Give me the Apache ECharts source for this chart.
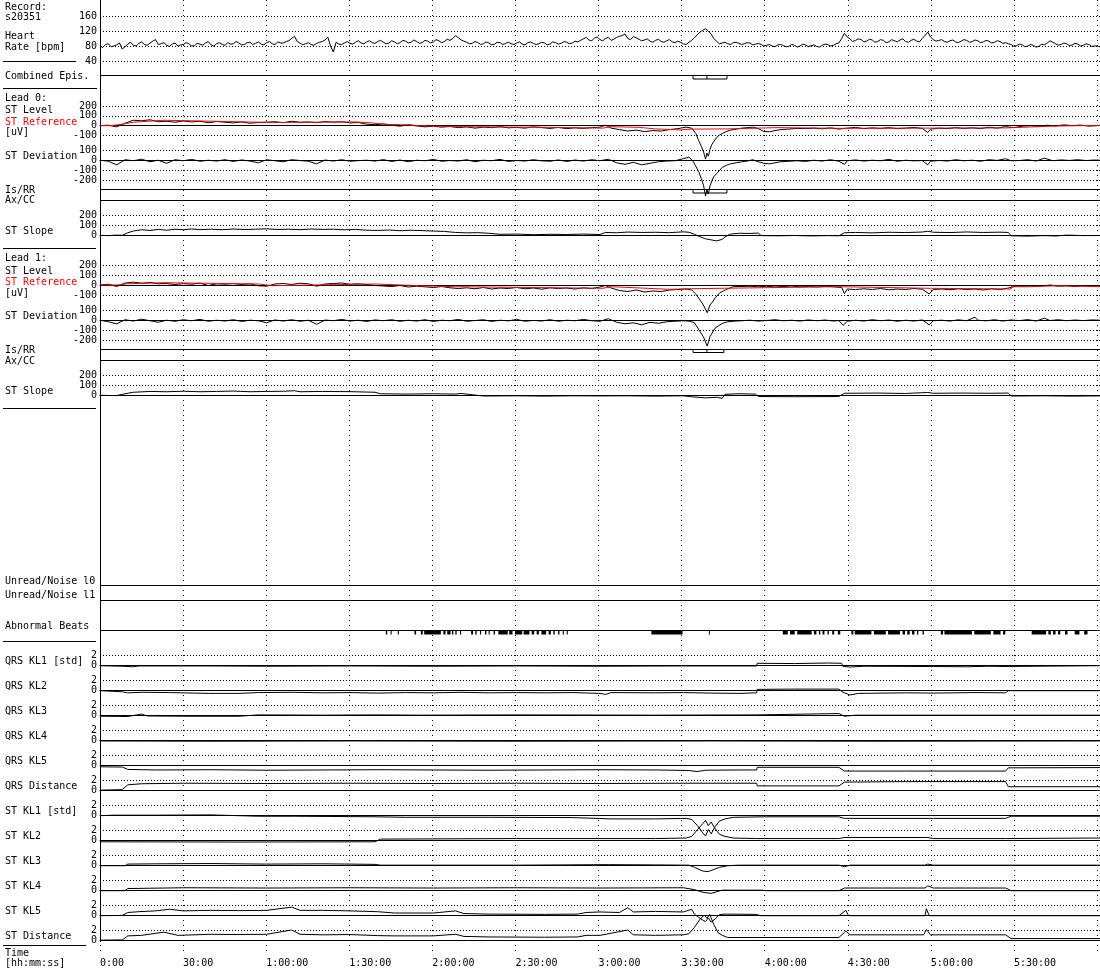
<!DOCTYPE html>
<html>
<head>
<meta charset="utf-8">
<script src="https://cdn.jsdelivr.net/npm/echarts@6/dist/echarts.min.js"></script>
<style>
html, body { margin: 0; padding: 0; background: #fff; }
#chart { width: 1100px; height: 970px; }
</style>
</head>
<body>
<div id="chart"></div>
<script>
// time axis, minutes from record start
var timeMax = 360;
var timeInterval = 30;

// heart rate: even minutes (0, 2, ... 360) and odd minutes (1, 3, ... 359)
var hrEvenValues = [80,84,78,83,72,85,82,87,84,88,97,86,82,85,80,84,86,81,85,88,
  83,86,84,89,86,88,84,90,87,85,89,86,91,88,94,106,88,86,84,87,
  92,104,64,85,88,87,90,88,91,89,92,90,88,91,89,93,90,92,89,93,
  91,94,92,95,108,96,90,87,89,86,88,85,89,87,86,88,85,89,87,86,
  88,85,89,87,90,88,91,99,96,101,97,100,95,103,108,100,105,98,96,93,
  95,92,94,91,93,86,90,102,117,126,112,92,88,86,89,87,86,88,85,84,
  82,80,83,81,79,82,80,83,81,79,82,84,82,88,114,99,95,97,93,96,
  92,95,91,94,96,92,95,93,100,117,97,95,92,94,91,93,95,92,94,91,
  93,90,92,89,84,81,83,80,82,79,83,94,86,84,86,83,85,82,84,80,78];
var hrOddValues = [76,86,80,88,78,90,80,91,82,93,
  84,89,79,88,83,89,80,87,82,92,
  80,89,82,85,92,83,89,84,91,83,
  92,84,88,92,100,92,83,89,82,90,
  96,80,90,84,92,85,94,86,94,87,
  95,86,94,86,95,88,96,87,95,88,
  97,89,98,100,102,93,86,92,84,91,
  83,90,84,90,84,91,83,91,84,90,
  83,91,85,92,86,93,95,103,94,104,
  94,103,98,106,112,97,102,94,99,90,
  98,90,97,89,90,84,95,110,122,120,
  100,86,90,84,90,84,89,83,87,80,
  84,78,84,78,84,77,85,78,83,77,
  85,80,86,100,104,92,99,91,98,90,
  97,89,97,91,99,90,98,91,108,104,
  93,97,90,96,89,97,90,96,89,95,
  88,94,87,86,79,85,78,84,77,85,
  88,90,82,88,81,87,80,86,79,80];

// ischemic episode (Combined / Is/RR brackets)
var episodeStart = 213.5, episodePeak = 218.5, episodeEnd = 225.7;
var lead1EpisodeEnd = 224.6;

// lead 0 [t, uV]
var lead0Reference = [[0,0],[4,15],[8,35],[12,55],[23,42],[46,32],[62,38],[92,30],[97,13],[103,7],[112,0],[115,-10],[128,-17],[161,-25],[181,-10],[184,-17],[194,-33],[200,-43],[209,-35],[213,-33],[225.6,-20],[244,-27],[266,-23],[326,-13],[335,-3],[345,3],[360,3]];
var lead0Level = [[0,0],[3,5],[6,-12],[9,25],[12,55],[15,50],[18,60],[21,40],[24,45],[27,35],[30,48],[33,38],[36,45],[39,30],[42,42],[45,35],[48,28],[51,38],[54,25],[57,32],[60,36],[63,40],[66,30],[69,45],[72,35],[75,38],[78,30],[81,42],[84,35],[87,40],[90,28],[93,32],[96,15],[99,10],[102,18],[105,5],[108,-5],[111,8],[114,-3],[117,-12],[120,-5],[123,-15],[126,-8],[129,-20],[132,-12],[135,-25],[138,-15],[141,-20],[144,-10],[147,-22],[150,-18],[153,-25],[156,-12],[159,-20],[162,-28],[165,-18],[168,-30],[171,-22],[174,-28],[177,-20],[180,-15],[182,5],[184,-25],[187,-40],[190,-55],[193,-45],[196,-60],[199,-50],[202,-55],[205,-40],[208,-30],[211,-15],[213,-25],[214.5,-80],[215.5,-150],[216.5,-210],[217.3,-270],[218,-340],[218.5,-280],[219,-310],[219.6,-240],[220.3,-190],[221,-160],[222,-120],[223,-95],[224,-80],[225.5,-60],[227,-45],[229,-35],[231,-25],[233,-20],[235,-15],[237,-30],[239,-60],[241,-62],[243,-50],[245,-40],[248,-35],[251,-28],[254,-30],[257,-25],[260,-32],[263,-22],[266,-35],[269,-25],[272,-18],[275,-30],[278,-22],[281,-28],[284,-20],[287,-30],[290,-25],[293,-18],[296,-28],[298,-70],[299,-35],[302,-25],[305,-30],[308,-20],[311,-28],[314,-22],[317,-30],[320,-15],[323,-25],[326,-10],[329,-20],[332,-5],[335,0],[338,-8],[341,5],[344,-3],[347,8],[350,0],[353,6],[356,-5],[360,2]];
var lead0Deviation = [[0,0],[3,-10],[6,-45],[9,5],[12,-5],[15,10],[18,-15],[21,0],[24,-30],[27,5],[30,-5],[33,8],[36,-10],[39,0],[42,-8],[45,5],[48,-12],[51,3],[54,-8],[57,-25],[60,5],[63,-5],[66,-15],[69,5],[72,-3],[75,-10],[78,-35],[81,2],[84,-8],[87,5],[90,-10],[93,-4],[96,0],[99,-8],[102,6],[105,-12],[108,2],[111,-15],[114,0],[117,-5],[120,8],[123,-10],[126,-3],[129,-8],[132,5],[135,-15],[138,0],[141,-5],[144,8],[147,-12],[150,-3],[153,-8],[156,5],[159,-6],[162,-10],[165,3],[168,-12],[171,2],[174,-8],[177,5],[180,-5],[183,10],[186,-25],[189,-40],[192,-20],[195,-45],[198,-30],[201,-15],[204,-8],[207,-5],[210,15],[212,30],[213.5,-10],[214.5,-60],[215.5,-110],[216.5,-180],[217.3,-250],[218,-350],[218.5,-290],[219,-330],[219.6,-250],[220.3,-200],[221,-160],[222,-130],[223,-100],[224,-70],[225.5,-50],[227,-35],[229,-25],[231,-15],[233,-8],[235,5],[237,-15],[239,-30],[241,-35],[243,-25],[245,-15],[248,-10],[251,-5],[254,-12],[257,0],[260,-8],[263,5],[266,-10],[268,-40],[269,-5],[272,3],[275,-8],[278,0],[281,-5],[284,8],[287,-10],[290,0],[293,-6],[296,-3],[298,-45],[299,-10],[302,-2],[305,-8],[308,5],[311,-5],[314,0],[317,-10],[320,5],[323,-2],[326,15],[328,-5],[331,-3],[334,5],[337,-8],[340,20],[343,-5],[346,3],[349,-2],[352,5],[355,-3],[358,2],[360,0]];
var lead0Slope = [[0,0],[3,-3],[6,2],[8,0],[10,25],[12,42],[15,55],[18,48],[21,58],[24,50],[27,60],[30,55],[33,62],[36,56],[40,60],[44,55],[48,62],[52,57],[56,60],[60,64],[64,57],[68,60],[72,55],[76,62],[80,58],[84,60],[88,54],[92,58],[96,50],[100,48],[104,52],[108,45],[112,50],[116,46],[120,42],[124,38],[128,28],[132,24],[136,26],[140,20],[144,10],[150,12],[156,6],[162,10],[168,8],[174,12],[180,8],[182,28],[186,25],[190,32],[195,28],[200,30],[205,26],[210,34],[212,30],[214,10],[216,-15],[218,-35],[220,-45],[222,-55],[224,-40],[225,-15],[227,12],[230,20],[234,18],[237,22],[238,-3],[244,-5],[250,-2],[256,-6],[262,-3],[266,-5],[268,25],[272,28],[278,24],[284,30],[290,27],[296,32],[298,40],[300,30],[306,27],[312,33],[318,28],[324,31],[327,28],[328,-5],[334,-8],[340,-3],[344,-7],[348,2],[354,-3],[360,-2]];

// lead 1 [t, uV]
var lead1Reference = [[0,0],[6,12],[10,23],[23,10],[57,-7],[62,10],[99,-7],[115,-17],[128,-33],[181,-17],[184,-33],[197,-43],[205,-37],[213,-17],[266,-33],[299,-40],[328,-17],[335,-7],[345,-17],[360,-17]];
var lead1Level = [[0,0],[3,8],[6,-15],[9,20],[12,28],[15,18],[18,25],[21,12],[24,15],[27,5],[30,14],[33,8],[36,18],[39,-5],[42,12],[45,8],[48,15],[51,5],[54,12],[57,-8],[60,-12],[63,10],[66,15],[69,5],[72,18],[75,12],[78,-12],[81,10],[84,15],[87,20],[90,8],[93,12],[96,5],[99,-5],[102,-10],[105,-15],[108,-5],[111,-20],[114,-12],[117,-18],[120,-25],[123,-15],[126,-28],[129,-35],[132,-28],[135,-38],[138,-25],[141,-40],[144,-30],[147,-35],[150,-25],[153,-38],[156,-30],[159,-42],[162,-28],[165,-35],[168,-30],[171,-40],[174,-28],[177,-35],[180,-20],[182,-5],[184,-30],[187,-55],[190,-65],[193,-50],[196,-70],[199,-60],[202,-65],[205,-50],[208,-45],[211,-40],[213,-50],[214.5,-90],[216,-150],[217.2,-200],[218.6,-277],[219.6,-200],[220.5,-170],[221.4,-130],[223.2,-77],[224.4,-60],[225.6,-43],[228,-17],[231,-15],[234,-12],[237,-18],[240,-12],[243,-20],[246,-15],[249,-10],[252,-18],[255,-14],[258,-20],[261,-12],[264,-18],[267,-25],[268,-85],[269,-40],[272,-45],[275,-38],[278,-45],[281,-35],[284,-48],[287,-40],[290,-45],[293,-35],[296,-42],[298.5,-90],[300,-45],[303,-40],[306,-48],[309,-38],[312,-45],[315,-40],[318,-50],[321,-38],[324,-45],[327,-30],[330,-10],[333,-15],[336,-5],[339,-10],[342,0],[345,-12],[348,-8],[351,-15],[354,-5],[357,-12],[360,-8]];
var lead1Deviation = [[0,0],[3,-15],[6,-35],[9,5],[12,-8],[15,10],[18,-5],[21,-20],[24,0],[27,-10],[30,5],[33,-5],[36,8],[39,-10],[42,0],[45,-8],[48,5],[51,-12],[54,0],[57,-5],[60,-25],[63,3],[66,-8],[69,5],[72,-10],[75,0],[78,-40],[81,2],[84,-5],[87,8],[90,-8],[93,0],[96,-12],[99,3],[102,-5],[105,5],[108,-10],[111,0],[114,-8],[117,5],[120,-12],[123,0],[126,-5],[129,8],[132,-10],[135,-3],[138,5],[141,-12],[144,0],[147,-6],[150,8],[153,-10],[156,-2],[159,-8],[162,5],[165,-10],[168,0],[171,-5],[174,8],[177,-5],[180,-10],[183,15],[186,-20],[189,-35],[192,-25],[195,-45],[198,-20],[201,-30],[204,-15],[207,-10],[210,-5],[212.4,-10],[214,-25],[216,-110],[217.2,-160],[218.6,-253],[219.6,-160],[221.4,-77],[223.2,-45],[224.4,-27],[226,-15],[228,-10],[231,-5],[234,0],[237,-8],[240,-3],[243,5],[246,-5],[249,0],[252,-8],[255,3],[258,-5],[261,2],[264,-8],[266,-3],[267.5,-50],[269,-10],[272,0],[275,-8],[278,5],[281,-5],[284,2],[287,-10],[290,0],[293,-8],[296,3],[298.5,-45],[300,-5],[303,0],[306,-8],[309,4],[312,-5],[315,30],[316,0],[319,-6],[322,5],[325,-8],[328,3],[331,-4],[334,6],[337,-8],[340,20],[342,-3],[345,5],[348,-5],[351,2],[354,-4],[357,3],[360,0]];
var lead1Slope = [[0,0],[6,-3],[9,15],[12,30],[18,38],[24,35],[30,40],[36,35],[42,38],[48,42],[54,35],[60,38],[66,40],[70,45],[72,35],[80,38],[90,36],[99,30],[101,15],[110,12],[120,15],[128,12],[130,18],[138,-7],[150,-5],[160,-8],[170,-5],[180,-6],[190,-5],[200,-8],[210,-5],[213,-15],[218,-25],[222,-20],[224,-30],[225,10],[230,15],[236,12],[237,-12],[250,-14],[266,-12],[268,20],[280,22],[290,18],[298,28],[300,20],[310,22],[320,20],[327,22],[328,-7],[340,-5],[350,-8],[360,-6]];

// abnormal beats, runs [start, end] in minutes
var abnormalBeatRuns = [[102.9,103.4],[104.6,105.0],[107.2,107.6],[113.2,113.8],[115.5,116.2],[116.7,122.7],[123.6,124.4],[125.0,126.2],[126.7,127.2],[127.9,128.4],[129.6,130.0],[133.6,134.3],[135.1,135.6],[136.8,137.2],[138.6,139.1],[139.9,140.3],[141.7,142.2],[143.4,146.8],[147.3,148.5],[149.4,152.0],[152.5,154.6],[155.4,156.3],[157.2,158.0],[158.9,160.6],[161.5,162.3],[163.2,163.7],[164.9,165.4],[166.6,167.0],[168.0,168.4],[198.5,209.7],[219.2,219.5],[245.8,247.6],[248.4,250.1],[251.0,256.2],[257.0,257.9],[258.8,259.3],[260.1,260.8],[261.9,262.4],[263.6,264.3],[265.6,266.5],[270.5,271.2],[271.7,277.7],[278.6,282.9],[283.7,288.0],[288.9,289.8],[290.6,291.5],[292.3,293.2],[294.1,294.6],[296.1,296.6],[302.7,303.5],[304.0,313.9],[314.7,320.7],[321.6,324.2],[325.1,325.9],[335.4,340.6],[341.4,342.3],[343.1,344.0],[344.9,345.7],[347.4,348.3],[350.9,352.6],[354.3,355.5]];

// Karhunen-Loeve coefficients [t, std]
var qrsKl1 = [[0,0],[8,-0.1],[12,-0.2],[14,-0.05],[40,-0.05],[60,-0.1],[90,-0.05],[120,-0.1],[150,-0.05],[180,-0.1],[210,-0.05],[236.4,-0.05],[236.6,0.45],[250,0.4],[262,0.5],[267,0.45],[267.4,-0.1],[270,-0.25],[275,-0.1],[300,-0.15],[312,-0.2],[320,-0.1],[326,-0.15],[326.5,0],[360,0]];
var qrsKl2 = [[0,0],[8,-0.2],[10,-0.4],[15,-0.3],[25,-0.35],[39,-0.5],[50,-0.5],[57,-0.35],[70,-0.3],[80,-0.4],[90,-0.35],[100,-0.45],[110,-0.35],[120,-0.4],[130,-0.3],[140,-0.4],[150,-0.35],[160,-0.4],[170,-0.35],[180,-0.5],[182,-0.7],[184,-0.35],[200,-0.4],[210,-0.35],[220,-0.45],[230,-0.5],[236.4,-0.4],[236.6,0.25],[250,0.3],[266,0.3],[267.5,-0.3],[270,-0.8],[273,-0.5],[290,-0.4],[300,-0.45],[315,-0.35],[326,-0.4],[327,0],[360,0]];
var qrsKl3 = [[0,-0.1],[10,-0.15],[15,0.3],[17,-0.05],[30,-0.1],[50,-0.1],[57,0.15],[80,0.1],[100,0.15],[115,0.1],[150,0.15],[200,0.1],[236,0.15],[236.6,0.35],[266,0.4],[268,-0.1],[272,0.1],[300,0.1],[330,0.1],[360,0.1]];
var qrsKl4 = [[0,-0.05],[40,-0.1],[90,-0.05],[150,-0.1],[220,-0.05],[280,-0.1],[360,-0.05]];
var qrsKl5 = [[0,-0.2],[8,-0.25],[10,-0.7],[20,-0.8],[40,-0.75],[60,-0.85],[80,-0.8],[100,-0.75],[120,-0.8],[140,-0.85],[160,-0.8],[180,-0.75],[200,-0.8],[212,-0.9],[215,-1.1],[218,-0.85],[230,-0.8],[236.4,-0.8],[236.6,-0.3],[266,-0.3],[268,-1.0],[290,-1.0],[326,-1.0],[327,-0.4],[360,-0.35]];
var qrsDistance = [[0,0.1],[8,0.2],[10,1.1],[15,1.3],[30,1.4],[60,1.35],[90,1.4],[120,1.35],[150,1.4],[180,1.35],[210,1.4],[236.4,1.4],[236.6,0.9],[266,0.9],[268,1.6],[290,1.7],[326,1.7],[327,0.75],[360,0.75]];
var stKl1 = [[0,0],[5,0.1],[20,0.1],[40,0.15],[57,-0.1],[70,-0.1],[99,-0.2],[110,-0.3],[140,-0.3],[170,-0.35],[184,-0.6],[200,-0.6],[211,-0.5],[213,-0.7],[215,-1.8],[217,-3.2],[218,-3.8],[219,-2.6],[220,-3.4],[221.5,-2.0],[223,-1.0],[225,-0.6],[228,-0.3],[240,-0.2],[266,-0.2],[268,-0.5],[300,-0.5],[326,-0.5],[328,-0.1],[360,-0.1]];
var stKl2 = [[0,-0.2],[50,-0.25],[99,-0.2],[101,0.3],[150,0.4],[200,0.4],[211,0.5],[213,0.8],[215,2.0],[217,3.2],[218,3.8],[219,2.8],[220,3.5],[221.5,2.2],[223,1.2],[225,0.8],[228,0.5],[236,0.4],[266,0.4],[268,0.6],[298,0.6],[300,0.4],[326,0.4],[360,0.5]];
var stKl3 = [[0,0],[9,0],[10,0.3],[20,0.35],[40,0.4],[60,0.3],[80,0.35],[99,0.25],[101,0.1],[150,0.1],[183,0.2],[200,0.15],[212,0.1],[214,-0.3],[217,-1.0],[219,-1.1],[221,-0.7],[223,-0.3],[226,0],[230,0.1],[266,0.1],[268,-0.2],[270,0.1],[297,0.1],[298,0.3],[300,0.1],[360,0.1]];
var stKl4 = [[0,0],[9,0],[10,0.4],[30,0.55],[60,0.5],[90,0.55],[120,0.5],[150,0.55],[180,0.5],[210,0.55],[214,0.2],[217,-0.3],[220,-0.5],[222,-0.2],[224,0.1],[238,0.1],[240,0],[266,0],[268,0.5],[297,0.5],[298,0.9],[300,0.5],[326,0.5],[328,0],[360,0]];
var stKl5 = [[0,0],[8,0.05],[10,0.6],[14,0.75],[20,0.9],[25,1.2],[30,0.9],[40,1.0],[50,0.95],[60,1.0],[69,1.6],[72,1.0],[80,1.0],[90,0.9],[100,0.75],[106,0.5],[120,0.5],[128,0.9],[131,0.4],[140,0.3],[160,0.25],[172,0.3],[175,0.6],[180,0.7],[187,0.6],[190,1.5],[192,0.7],[200,0.8],[210,0.7],[213,1.2],[214,0.3],[216,-0.5],[218,-1.1],[219,-0.4],[220,-1.2],[221.5,-0.6],[223,0.2],[225,0.3],[236,0.25],[238,0],[266,0],[268.5,1.0],[269.5,0],[297,0],[297.5,1.3],[298.5,0],[326,0],[360,0]];
var stDistance = [[0,0.1],[8,0.15],[10,0.9],[15,1.0],[23,1.6],[28,1.0],[40,1.2],[50,1.15],[60,1.2],[69,2.0],[72,1.2],[80,1.1],[90,1.15],[100,0.95],[106,0.9],[120,0.9],[128,1.2],[131,0.8],[140,0.7],[160,0.65],[172,0.7],[175,1.0],[180,1.0],[190,2.0],[192,1.1],[200,1.0],[210,1.1],[212,1.3],[214,2.5],[216,4.0],[217.5,4.8],[218.5,4.2],[219.5,4.9],[221,3.0],[222.5,1.5],[224,1.0],[226,0.6],[236,0.6],[266,0.6],[268.5,1.8],[270,1.1],[296.5,1.1],[297.5,2.1],[299,1.1],[326,1.1],[328,0.4],[360,0.4]];

var FONT = '"DejaVu Sans Mono", monospace';
var BLACK = '#000';
var RED = '#ff0000';

var grids = [], xAxes = [], yAxes = [], series = [];

function fmtTime(v) {
    if (v >= timeMax) return '';
    var h = Math.floor(v / 60), m = v % 60;
    if (h === 0) return m + ':00';
    return h + ':' + (m < 10 ? '0' + m : m) + ':00';
}

// background grid: vertical time gridlines and time labels
grids.push({ left: 100, right: 0, top: 0, height: 952 });
xAxes.push({
    gridIndex: 0, type: 'value', min: 0, max: timeMax, interval: timeInterval,
    axisLine: { show: false }, axisTick: { show: false },
    axisLabel: { color: BLACK, fontFamily: FONT, fontSize: 10, margin: 6, align: 'left', formatter: fmtTime },
    splitLine: { show: true, lineStyle: { color: BLACK, width: 1, type: [1, 4] } }
});
yAxes.push({ gridIndex: 0, type: 'value', show: false, min: 0, max: 1 });

function addPanel(top, height, y) {
    var i = grids.length;
    grids.push({ left: 100, right: 0, top: top, height: height });
    xAxes.push({
        gridIndex: i, type: 'value', min: 0, max: timeMax,
        axisLine: { show: !!y.zeroLine, onZero: true, lineStyle: { color: BLACK, width: 1 } },
        axisTick: { show: false }, axisLabel: { show: false }, splitLine: { show: false }
    });
    yAxes.push({
        gridIndex: i, type: 'value', min: y.min, max: y.max, interval: y.interval,
        axisLine: { show: false }, axisTick: { show: false },
        axisLabel: { show: !!y.labels, color: BLACK, fontFamily: FONT, fontSize: 10, margin: 3 },
        splitLine: { show: !!y.labels, lineStyle: { color: BLACK, width: 1, type: [1, 2] } }
    });
    return i;
}

function addLine(i, data, color, step) {
    series.push({
        type: 'line', xAxisIndex: i, yAxisIndex: i, data: data, step: step || false,
        symbol: 'none', clip: false, silent: true,
        lineStyle: { color: color || BLACK, width: 1 }
    });
}

function addBracket(i, start, peak, end) {
    addLine(i, [[start, 1], [start, 0], [end, 0], [end, 1]]);
    addLine(i, [[peak, 0], [peak, 1]]);
}

// heart rate, even and odd minute samples merged in time order
var hrData = [];
hrEvenValues.forEach(function (v, k) {
    hrData.push([2 * k, v]);
    if (k < hrOddValues.length) hrData.push([2 * k + 1, hrOddValues[k]]);
});
var hr = addPanel(16, 45, { min: 40, max: 160, interval: 40, labels: true });
addLine(hr, hrData);

// combined episodes
var epi = addPanel(75.5, 3.5, { min: 0, max: 1 });
addBracket(epi, episodeStart, episodePeak, episodeEnd);

// lead 0
var l0lev = addPanel(106, 29.5, { min: -100, max: 200, interval: 100, labels: true, zeroLine: true });
addLine(l0lev, lead0Level);
addLine(l0lev, lead0Reference, RED, 'end');
var l0dev = addPanel(150, 30.7, { min: -200, max: 100, interval: 100, labels: true, zeroLine: true });
addLine(l0dev, lead0Deviation);
var l0is = addPanel(189.5, 3.5, { min: 0, max: 1 });
addBracket(l0is, episodeStart, episodePeak, episodeEnd);
var l0slope = addPanel(215, 20.3, { min: 0, max: 200, interval: 100, labels: true, zeroLine: true });
addLine(l0slope, lead0Slope);

// lead 1
var l1lev = addPanel(265, 30, { min: -100, max: 200, interval: 100, labels: true, zeroLine: true });
addLine(l1lev, lead1Level);
addLine(l1lev, lead1Reference, RED, 'end');
var l1dev = addPanel(310, 30.7, { min: -200, max: 100, interval: 100, labels: true, zeroLine: true });
addLine(l1dev, lead1Deviation);
var l1is = addPanel(349.5, 3, { min: 0, max: 1 });
addBracket(l1is, episodeStart, episodePeak, lead1EpisodeEnd);
var l1slope = addPanel(375, 20.3, { min: 0, max: 200, interval: 100, labels: true, zeroLine: true });
addLine(l1slope, lead1Slope);

// abnormal beats
var beats = addPanel(630.5, 4, { min: 0, max: 1 });
series.push({
    type: 'custom', xAxisIndex: beats, yAxisIndex: beats, data: abnormalBeatRuns, silent: true,
    encode: { x: [0, 1] },
    renderItem: function (params, api) {
        var a = api.coord([api.value(0), 1]);
        var b = api.coord([api.value(1), 0]);
        return { type: 'rect', shape: { x: a[0], y: a[1], width: Math.max(1, b[0] - a[0]), height: b[1] - a[1] }, style: { fill: BLACK } };
    }
});

// KL panels
var klSeries = [qrsKl1, qrsKl2, qrsKl3, qrsKl4, qrsKl5, qrsDistance, stKl1, stKl2, stKl3, stKl4, stKl5, stDistance];
klSeries.forEach(function (d, k) {
    var p = addPanel(655 + 25 * k, 10.7, { min: 0, max: 2, interval: 2, labels: true, zeroLine: true });
    addLine(p, d);
});

// left side labels
var labelRows = [
    ['Record:', 7], ['s20351', 17], ['Heart', 36], ['Rate [bpm]', 47], ['Combined Epis.', 76],
    ['Lead 0:', 98], ['ST Level', 110], ['ST Reference', 122, RED], ['[uV]', 132], ['ST Deviation', 156],
    ['Is/RR', 190], ['Ax/CC', 200], ['ST Slope', 231],
    ['Lead 1:', 258], ['ST Level', 271], ['ST Reference', 282, RED], ['[uV]', 293], ['ST Deviation', 316],
    ['Is/RR', 350], ['Ax/CC', 361], ['ST Slope', 391],
    ['Unread/Noise l0', 581], ['Unread/Noise l1', 595], ['Abnormal Beats', 626],
    ['QRS KL1 [std]', 661], ['QRS KL2', 686], ['QRS KL3', 711], ['QRS KL4', 736], ['QRS KL5', 761], ['QRS Distance', 786],
    ['ST KL1 [std]', 811], ['ST KL2', 836], ['ST KL3', 861], ['ST KL4', 886], ['ST KL5', 911], ['ST Distance', 936],
    ['Time', 953], ['[hh:mm:ss]', 963]
];
var graphics = labelRows.map(function (r) {
    return {
        type: 'text', x: 5, y: r[1], silent: true,
        style: { text: r[0], fill: r[2] || BLACK, font: '10px ' + FONT, verticalAlign: 'middle', textVerticalAlign: 'middle' }
    };
});

function hline(x1, x2, y) {
    return { type: 'line', silent: true, shape: { x1: x1, y1: y, x2: x2, y2: y }, style: { stroke: BLACK, lineWidth: 1 } };
}
[[3, 76, 61.5], [3, 97, 88.5], [3, 96, 248.5], [3, 96, 408.5], [3, 96, 641.5], [3, 86, 945.5]].forEach(function (s) {
    graphics.push(hline(s[0], s[1], s[2]));
});
[75.5, 189.5, 200.5, 349.5, 360.5, 585.5, 600.5, 630.5].forEach(function (y) {
    graphics.push(hline(100, 1100, y));
});
graphics.push({ type: 'line', silent: true, shape: { x1: 100.5, y1: 0, x2: 100.5, y2: 942 }, style: { stroke: BLACK, lineWidth: 1 } });

var chart = echarts.init(document.getElementById('chart'));
chart.setOption({
    animation: false,
    backgroundColor: '#fff',
    grid: grids,
    xAxis: xAxes,
    yAxis: yAxes,
    series: series,
    graphic: graphics
});
</script>
</body>
</html>
